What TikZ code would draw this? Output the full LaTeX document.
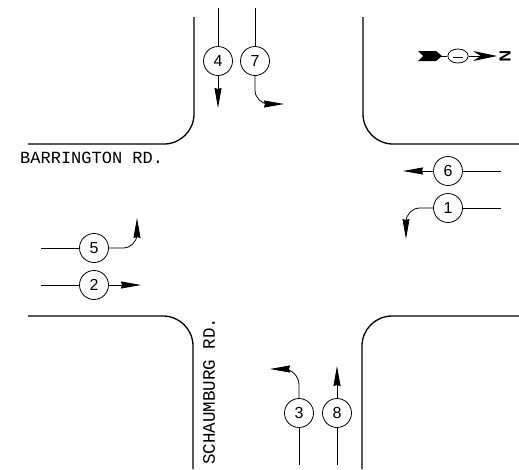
\documentclass[tikz,border=0pt]{standalone}
\usepackage{fontspec}
\setsansfont{Liberation Sans}
\setmonofont{Liberation Mono}
\usetikzlibrary{arrows.meta}

\tikzset{
  phase/.style={draw,shape=circle,minimum size=29pt,inner sep=0pt,line width=0.8pt,font=\sffamily\fontsize{16}{16}\selectfont},
  move/.style={line width=0.8pt},
  movearrow/.style={line width=0.8pt,-{Stealth[length=20pt,width=7pt,inset=1pt]}},
  curb/.style={line width=1.3pt,rounded corners=30pt},
  roadname/.style={font=\ttfamily\fontsize{17}{17}\selectfont,inner sep=0pt}
}

\begin{document}
\begin{tikzpicture}[x=1pt,y=-1pt]
\useasboundingbox (0,0) rectangle (519,469);

\node (four) [phase] at (218,61) {4};
\node (seven) [phase] at (255,61) {7};
\node (six) [phase] at (448,171) {6};
\node (one) [phase] at (448,208) {1};
\node (five) [phase] at (94,248) {5};
\node (two) [phase] at (94,285) {2};
\node (three) [phase] at (299,413) {3};
\node (eight) [phase] at (337,413) {8};

\coordinate (fourin) at (218,8);
\coordinate (fourout) at (218,108);
\coordinate (sevenin) at (255,8);
\coordinate (sevenout) at (284,104);
\coordinate (sixin) at (501,171);
\coordinate (sixout) at (403,171);
\coordinate (onein) at (501,208);
\coordinate (oneout) at (406,239);
\coordinate (fivein) at (41,248);
\coordinate (fiveout) at (137,218);
\coordinate (twoin) at (41,285);
\coordinate (twoout) at (141,285);
\coordinate (threein) at (299,465);
\coordinate (threeout) at (270,369);
\coordinate (eightin) at (337,465);
\coordinate (eightout) at (337,366);

% curbs
\draw[curb] (28,144) -| (194,17);
\draw[curb] (363,17) |- (519,144);
\draw[curb] (28,316) -| (193,469);
\draw[curb] (362,469) |- (519,316);

\node (barrington) [roadname,anchor=west] at (20,158) {BARRINGTON RD.};
\node (schaumburg) [roadname,rotate=90,anchor=west,font=\ttfamily\fontsize{17.5}{17.5}\selectfont] at (209,465) {SCHAUMBURG RD.};

\draw[move] (fourin) -- (four);
\draw[movearrow] (four) -- (fourout);
\draw[move] (sevenin) -- (seven);
\draw[movearrow,rounded corners=14pt] (seven) |- (sevenout);
\draw[move] (sixin) -- (six);
\draw[movearrow] (six) -- (sixout);
\draw[move] (onein) -- (one);
\draw[movearrow,rounded corners=14pt] (one) -| (oneout);
\draw[move] (fivein) -- (five);
\draw[movearrow,rounded corners=14pt] (five) -| (fiveout);
\draw[move] (twoin) -- (two);
\draw[movearrow] (two) -- (twoout);
\draw[move] (threein) -- (three);
\draw[movearrow,rounded corners=16pt] (three) |- (threeout);
\draw[move] (eightin) -- (eight);
\draw[movearrow] (eight) -- (eightout);

% north arrow
\node (northmark) [draw,shape=circle,xscale=1.45,minimum size=14pt,inner sep=0pt,line width=0.8pt] at (458,56) {};
\node (northlabel) [rotate=-90,inner sep=0pt,font=\sffamily\bfseries\fontsize{16}{16}\selectfont] at (505,56) {N};
\coordinate (northtail) at (436,56);
\coordinate (northtip) at (497,56);
\fill (418,51) -- (436,51) -- (442,56) -- (436,61) -- (418,61) -- (423,56) -- cycle;
\draw[move] (northtail) -- (northmark);
\draw[line width=0.8pt,-{Stealth[length=24pt,width=10pt]}] (northmark) -- (northtip);
\draw[line width=1pt] (453,57) -- (463,57);
\end{tikzpicture}
\end{document}
